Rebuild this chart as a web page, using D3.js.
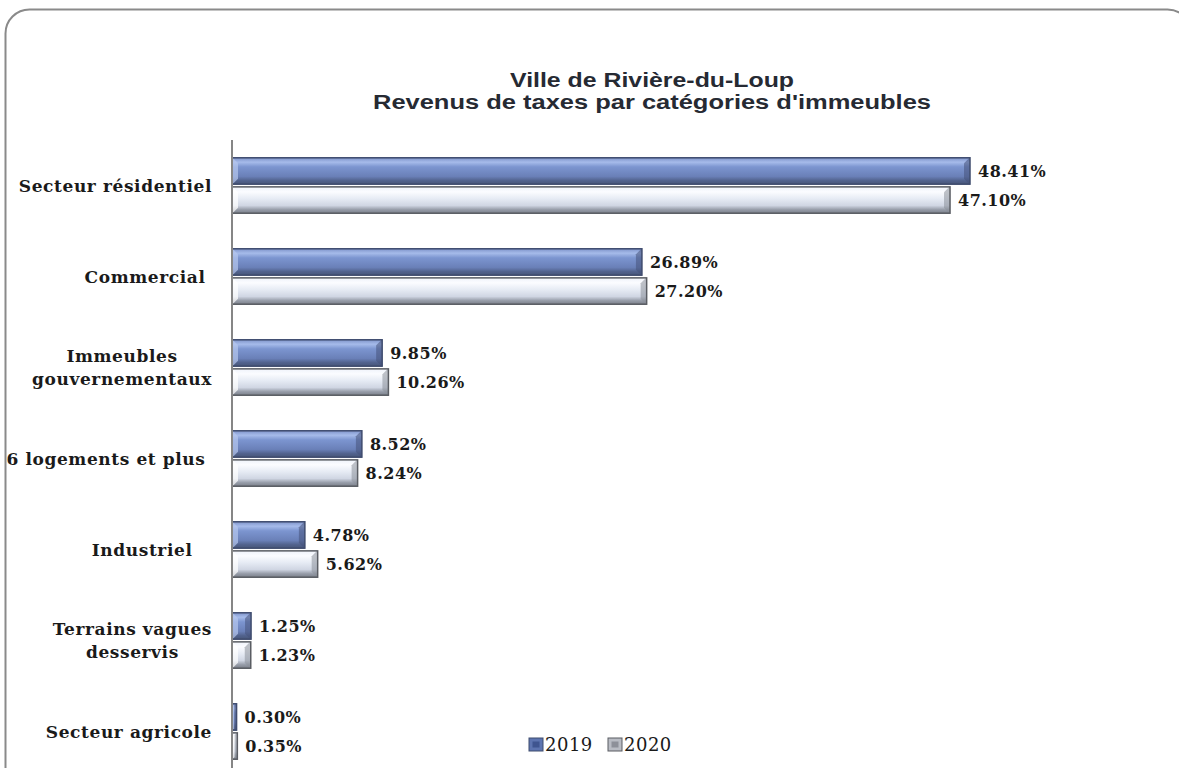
<!DOCTYPE html>
<html>
<head>
<meta charset="utf-8">
<script src="https://cdn.jsdelivr.net/npm/d3@7"></script>
<style>
  body { margin: 0; background: #fff; }
  svg { display: block; }
  text { white-space: pre; }
</style>
</head>
<body>
<svg class="chart" width="1179" height="768"></svg>
<script>
let categories = [
  ['Secteur résidentiel'],
  ['Commercial '],
  ['Immeubles', 'gouvernementaux'],
  ['6 logements et plus '],
  ['Industriel   '],
  ['Terrains vagues', 'desservis'],
  ['Secteur agricole']
];
let years = ['2019', '2020'];
let values2019 = [48.41, 26.89, 9.85, 8.52, 4.78, 1.25, 0.30];
let values2020 = [47.10, 27.20, 10.26, 8.24, 5.62, 1.23, 0.35];
let titleLines = ['Ville de Rivière-du-Loup', "Revenus de taxes par catégories d'immeubles"];
let titleWidths = [284, 558];

let svg = d3.select('svg.chart');

// frame with rounded corners (right and bottom run past the picture)
svg.append('rect')
  .attr('x', 5.5).attr('y', 9.5)
  .attr('width', 1186).attr('height', 820)
  .attr('rx', 24)
  .style('fill', 'none')
  .style('stroke', '#8a8a8a')
  .style('stroke-width', '2px');

// gradients for the bevelled bars
let defs = svg.append('defs');
function grad(id, stops) {
  let g = defs.append('linearGradient').attr('id', id)
    .attr('x1', 0).attr('y1', 0).attr('x2', 0).attr('y2', 1);
  stops.forEach(s => g.append('stop').attr('offset', s[0]).attr('stop-color', s[1]));
}
grad('g2019', [[0, '#7a8fc6'], [0.18, '#a6bbea'], [0.35, '#7c95d0'], [0.7, '#6a80b8'], [0.85, '#52638e'], [1, '#465476']]);
grad('g2020', [[0, '#eef2fa'], [0.2, '#fbfcff'], [0.45, '#e6ebf4'], [0.7, '#d0d6e3'], [0.85, '#979da9'], [1, '#777c86']]);

let x = d3.scaleLinear().domain([0, 48.41]).range([232, 970]);
let y = d3.scaleBand().domain(d3.range(categories.length)).range([140, 777])
  .paddingInner(0.38).paddingOuter(0.19);
let ySub = d3.scaleBand().domain(years).range([0, y.bandwidth()]).paddingInner(0.06);

let series = [
  {year: '2019', vals: values2019, fill: 'url(#g2019)', stroke: '#3f4c6e', lite: '#b7c7ee', dark: '#45527a'},
  {year: '2020', vals: values2020, fill: 'url(#g2020)', stroke: '#5a5d63', lite: '#ffffff', dark: '#8b9099'}
];

series.forEach(s => {
  let g = svg.append('g').attr('class', 'bars' + s.year);
  let rows = s.vals.map((v, i) => ({v: v, i: i}));

  let grp = g.selectAll('g.bar').data(rows).enter().append('g').attr('class', 'bar');

  grp.append('rect')
    .attr('x', x(0))
    .attr('y', d => y(d.i) + ySub(s.year))
    .attr('width', d => x(d.v) - x(0))
    .attr('height', ySub.bandwidth())
    .style('fill', s.fill);

  // bevels at the two ends
  let b = 6;
  grp.append('polygon')
    .attr('points', d => {
      let x0 = x(0), y0 = y(d.i) + ySub(s.year), h = ySub.bandwidth();
      let bb = Math.min(b, (x(d.v) - x0) / 2);
      return [[x0, y0], [x0 + bb, y0 + bb], [x0 + bb, y0 + h - bb], [x0, y0 + h]].join(' ');
    })
    .style('fill', s.lite).style('opacity', 0.7);
  grp.append('polygon')
    .attr('points', d => {
      let x0 = x(0), x1 = x(d.v), y0 = y(d.i) + ySub(s.year), h = ySub.bandwidth();
      let bb = Math.min(b, (x1 - x0) / 2);
      return [[x1, y0], [x1 - bb, y0 + bb], [x1 - bb, y0 + h - bb], [x1, y0 + h]].join(' ');
    })
    .style('fill', s.dark).style('opacity', 0.55);

  grp.append('rect')
    .attr('x', x(0))
    .attr('y', d => y(d.i) + ySub(s.year) + 0.5)
    .attr('width', d => x(d.v) - x(0))
    .attr('height', ySub.bandwidth() - 1)
    .style('fill', 'none')
    .style('stroke', s.stroke)
    .style('stroke-width', '1.5px');

  grp.append('text')
    .attr('x', d => x(d.v) + 8)
    .attr('y', d => y(d.i) + ySub(s.year) + ySub.bandwidth() / 2)
    .attr('dy', '0.38em')
    .style('font-family', '"DejaVu Serif", serif')
    .style('font-weight', 'bold')
    .style('font-size', '16px')
    .style('letter-spacing', '0.5px')
    .style('fill', '#1a1a1a')
    .text(d => d.v.toFixed(2) + '%');
});

// axis line
svg.append('line')
  .attr('x1', 232).attr('x2', 232)
  .attr('y1', 140).attr('y2', 768)
  .style('stroke', '#868686')
  .style('stroke-width', '2px');

// category labels: block right-aligned to the axis, lines centred inside it
let labelRight = 212;
let cat = svg.selectAll('g.cat').data(categories).enter().append('g')
  .attr('class', 'cat');
cat.each(function(lines, i) {
  let cy = y(i) + y.bandwidth() / 2;
  let g = d3.select(this);
  let texts = lines.map((ln, k) => g.append('text')
    .attr('y', cy + (k - (lines.length - 1) / 2) * 23)
    .attr('dy', '0.36em')
    .attr('text-anchor', 'middle')
    .style('font-family', '"DejaVu Serif", serif')
    .style('font-weight', 'bold')
    .style('font-size', '17px')
    .style('letter-spacing', '0.6px')
    .style('fill', '#1a1a1a')
    .text(ln));
  let w = d3.max(texts, t => t.node().getComputedTextLength());
  texts.forEach(t => t.attr('x', labelRight - w / 2));
});

// title
svg.selectAll('text.title').data(titleLines).enter().append('text')
  .attr('class', 'title')
  .attr('x', 652)
  .attr('y', (d, i) => 80 + i * 22)
  .attr('dy', '0.36em')
  .attr('text-anchor', 'middle')
  .attr('textLength', (d, i) => titleWidths[i])
  .attr('lengthAdjust', 'spacingAndGlyphs')
  .style('font-family', '"Liberation Sans", Arial, sans-serif')
  .style('font-weight', 'bold')
  .style('font-size', '20px')
  .style('fill', '#262a33')
  .text(d => d);

// legend
let legX = [529, 608];
let leg = svg.selectAll('g.leg').data(series).enter().append('g')
  .attr('class', 'leg')
  .attr('transform', (d, i) => `translate(${legX[i]},738)`);
leg.append('rect')
  .attr('width', 14).attr('height', 13)
  .style('fill', d => d.year === '2019' ? '#5d74b0' : '#b9bcc4')
  .style('stroke', d => d.stroke).style('stroke-width', '1px');
leg.append('rect')
  .attr('x', 3.5).attr('y', 3.5).attr('width', 7).attr('height', 6)
  .style('fill', d => d.year === '2019' ? '#3f5590' : '#8d9099');
leg.append('text')
  .attr('x', 16).attr('y', 7).attr('dy', '0.36em')
  .style('font-family', '"DejaVu Serif", serif')
  .style('font-size', '18px')
  .style('letter-spacing', '0.5px')
  .style('fill', '#1a1a1a')
  .text(d => d.year);
</script>
</body>
</html>
